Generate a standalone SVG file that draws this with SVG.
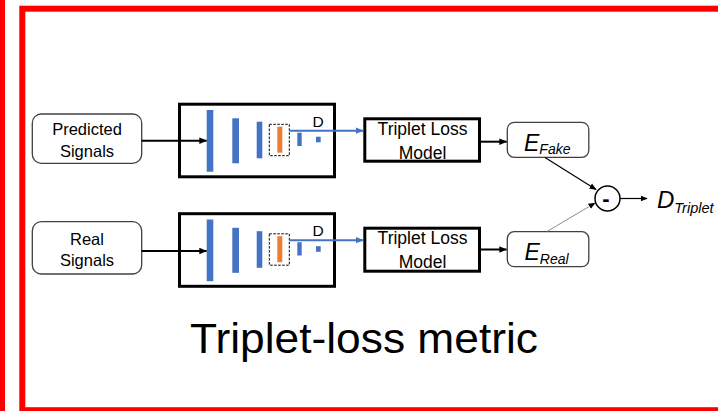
<svg xmlns="http://www.w3.org/2000/svg" width="718" height="411" viewBox="0 0 718 411">
<defs>
<style>
.lbl{font-family:"Liberation Sans",Arial,sans-serif;fill:#000;}
.soft{fill:#fff;stroke:#404040;stroke-width:1.3;}
.thick{fill:#fff;stroke:#000;stroke-width:3;}
.blue{fill:#4472C4;}
.orange{fill:#ED7D31;}
.dash{fill:none;stroke:#000;stroke-width:1;stroke-dasharray:2.5 1.5;}
.conn{fill:none;stroke:#000;stroke-width:2;}
.connb{fill:none;stroke:#4472C4;stroke-width:2;}
.thin{fill:none;stroke:#000;stroke-width:1.2;}
</style>
<marker id="ah" viewBox="0 0 10 10" refX="9" refY="5" markerWidth="4" markerHeight="4" orient="auto" markerUnits="strokeWidth"><path d="M0,1 L10,5 L0,9 z" fill="#000"/></marker>
<marker id="ahb" viewBox="0 0 10 10" refX="9" refY="5" markerWidth="4" markerHeight="4" orient="auto" markerUnits="strokeWidth"><path d="M0,1 L10,5 L0,9 z" fill="#4472C4"/></marker>
<marker id="ahs" viewBox="0 0 10 10" refX="9" refY="5" markerWidth="6" markerHeight="6" orient="auto" markerUnits="strokeWidth"><path d="M0,1 L10,5 L0,9 z" fill="#000"/></marker>
<marker id="ahg" viewBox="0 0 10 10" refX="9" refY="5" markerWidth="8" markerHeight="8" orient="auto" markerUnits="strokeWidth"><path d="M0,1 L10,5 L0,9 z" fill="#000"/></marker>
<g id="enc">
<rect class="thick" x="179.5" y="104.2" width="155" height="72.6"/>
<rect class="blue" x="206.7" y="110" width="6.6" height="61.7"/>
<rect class="blue" x="232.3" y="118.3" width="6.7" height="45"/>
<rect class="blue" x="256.7" y="121.7" width="5.6" height="36.6"/>
<rect class="dash" x="269.3" y="124.3" width="20" height="31.4"/>
<rect class="orange" x="277.3" y="126.7" width="5" height="26"/>
<rect class="blue" x="297.3" y="132.7" width="4.4" height="13.3"/>
<rect class="blue" x="316" y="136.7" width="4.7" height="5.6"/>
<text class="lbl" x="312.5" y="126.5" font-size="15.5">D</text>
</g>
</defs>
<rect x="0" y="0" width="718" height="411" fill="#fff"/>
<rect x="0" y="0" width="5" height="411" fill="#f00"/>
<rect x="22.3" y="8.7" width="720" height="401.5" fill="none" stroke="#f00" stroke-width="6"/>

<g id="predicted-signals">
<rect class="soft" x="32.3" y="114" width="109.4" height="49.3" rx="9"/>
<text class="lbl" x="87" y="135" font-size="16.5" text-anchor="middle">Predicted</text>
<text class="lbl" x="87" y="156.7" font-size="16.5" text-anchor="middle">Signals</text>
</g>
<g id="real-signals">
<rect class="soft" x="32.3" y="221.7" width="109.4" height="52.3" rx="9"/>
<text class="lbl" x="87" y="245" font-size="16.5" text-anchor="middle">Real</text>
<text class="lbl" x="87" y="266" font-size="16.5" text-anchor="middle">Signals</text>
</g>
<g id="encoder-fake"><use href="#enc"/></g>
<g id="encoder-real"><use href="#enc" transform="translate(0,109.5)"/></g>

<g id="triplet-fake">
<rect class="thick" x="364.8" y="118.8" width="114.7" height="42.4"/>
<text class="lbl" x="422.5" y="135" font-size="17.5" text-anchor="middle">Triplet Loss</text>
<text class="lbl" x="422.5" y="159.3" font-size="17.5" text-anchor="middle">Model</text>
</g>
<g id="triplet-real">
<rect class="thick" x="364.8" y="228.2" width="114.7" height="43"/>
<text class="lbl" x="422.5" y="243.8" font-size="17.5" text-anchor="middle">Triplet Loss</text>
<text class="lbl" x="422.5" y="268.3" font-size="17.5" text-anchor="middle">Model</text>
</g>
<g id="e-fake">
<rect class="soft" x="507.3" y="122.3" width="81.5" height="35" rx="7"/>
<text class="lbl" x="524" y="150.5" font-size="23" font-style="italic">E<tspan font-size="14" dy="3.5">Fake</tspan></text>
</g>
<g id="e-real">
<rect class="soft" x="507.3" y="231.7" width="81.5" height="35" rx="7"/>
<text class="lbl" x="524.5" y="259.5" font-size="23" font-style="italic">E<tspan font-size="14" dy="4">Real</tspan></text>
</g>
<g id="minus">
<circle cx="607.5" cy="198.5" r="12.5" fill="#fff" stroke="#000" stroke-width="1.5"/>
<text class="lbl" x="606" y="206" font-size="22" font-weight="bold" text-anchor="middle">-</text>
</g>
<g id="d-triplet">
<text class="lbl" x="657" y="207.5" font-size="24" font-style="italic">D<tspan font-size="14.5" dy="5">Triplet</tspan></text>
</g>

<g id="connectors">
<line class="conn" x1="141.7" y1="140.7" x2="206.5" y2="140.7" marker-end="url(#ah)"/>
<line class="conn" x1="141.7" y1="251" x2="206.5" y2="251" marker-end="url(#ah)"/>
<line class="connb" x1="289.3" y1="130.7" x2="363" y2="130.7" marker-end="url(#ahb)"/>
<line class="connb" x1="289.3" y1="240.2" x2="363" y2="240.2" marker-end="url(#ahb)"/>
<line class="conn" x1="481" y1="141.7" x2="506.5" y2="141.7" marker-end="url(#ah)"/>
<line class="conn" x1="481" y1="249.5" x2="506.5" y2="249.5" marker-end="url(#ah)"/>
<line class="thin" x1="545" y1="157.5" x2="596" y2="189.5" marker-end="url(#ahs)"/>
<line x1="546.7" y1="231.7" x2="595" y2="203" stroke="#7f7f7f" stroke-width="0.9" marker-end="url(#ahg)"/>
<line class="thin" x1="620" y1="198.5" x2="647" y2="198.5" marker-end="url(#ahs)"/>
</g>

<text class="lbl" x="364" y="352.5" font-size="43" text-anchor="middle" textLength="348" lengthAdjust="spacingAndGlyphs">Triplet-loss metric</text>
</svg>
